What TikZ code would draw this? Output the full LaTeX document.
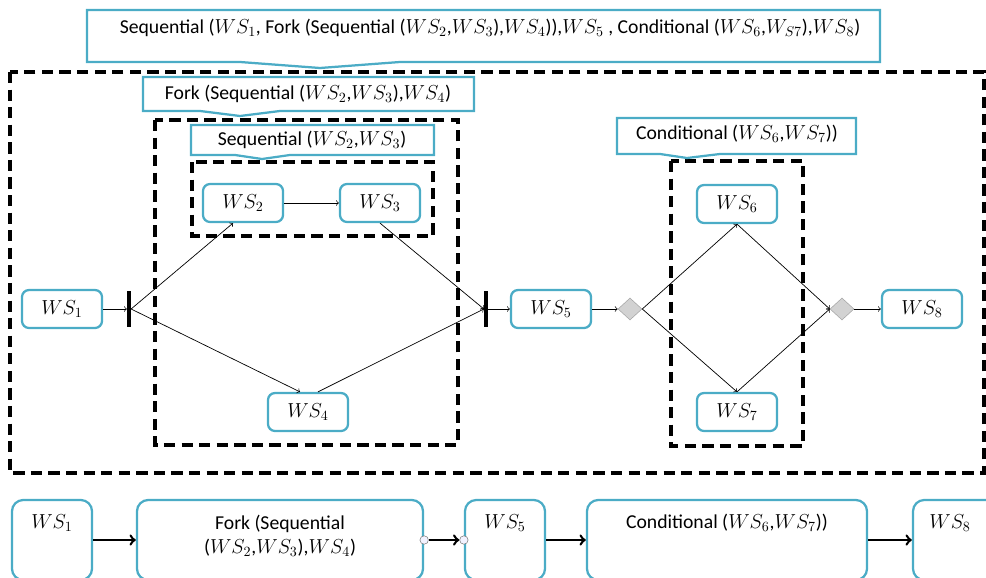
\documentclass[tikz,border=0pt]{standalone}
\usepackage{fontspec}
\setmainfont{Carlito}
\usetikzlibrary{shapes.geometric}
\definecolor{wsblue}{RGB}{75,172,198}
\tikzset{
  ws/.style={draw=wsblue, line width=1.6pt, rounded corners=5pt, fill=white,
    minimum width=2cm, minimum height=0.95cm},
  wsbig/.style={draw=wsblue, line width=1.6pt, rounded corners=8pt, fill=white,
    minimum height=2cm},
  callout/.style={draw=wsblue, line width=1.6pt, fill=white, line join=miter},
  dashbox/.style={draw=black, line width=2.4pt, dash pattern=on 8pt off 4.5pt},
  bar/.style={fill=black, inner sep=0pt, minimum width=2.6pt, minimum height=0.9cm},
  gate/.style={diamond, draw=gray!70, fill=gray!35, inner sep=0pt,
    minimum width=0.6cm, minimum height=0.55cm},
  port/.style={circle, draw=gray, fill=blue!5, inner sep=0pt, minimum size=6pt},
  flow/.style={->, line width=0.5pt},
  bigflow/.style={->, line width=1.8pt}
}
\begin{document}
\begin{tikzpicture}[x=0.025cm, y=-0.025cm, font=\fontsize{14}{17}\selectfont]
    \useasboundingbox (0,0) rectangle (986,578);
    \clip (0,0) rectangle (986,578);
    % dashed groups
    \draw [dashbox] (10,72) rectangle (984,473);
    \draw [dashbox] (155,120) rectangle (458,445);
    \draw [dashbox] (192,162) rectangle (433,236);
    \draw [dashbox] (671,161) rectangle (803,446);
    % callouts
    \draw [callout] (87,10) -- (880,10) -- (880,62) -- (400,62) -- (320,68) -- (240,62) -- (87,62) -- cycle;
    \path (490,28) node (ctop) {Sequential ($WS_1$, Fork (Sequential ($WS_2$,$WS_3$),$WS_4$)),$WS_5$ , Conditional ($WS_6$,$W_{S7}$),$WS_8$)};
    \draw [callout] (143,77) -- (474,77) -- (474,111) -- (280,111) -- (240,116) -- (200,111) -- (143,111) -- cycle;
    \path (308,94) node (cfork) {Fork (Sequential ($WS_2$,$WS_3$),$WS_4$)};
    \draw [callout] (191,125) -- (434,125) -- (434,155) -- (290,155) -- (262,159) -- (235,155) -- (191,155) -- cycle;
    \path (312,140) node (cseq) {Sequential ($WS_2$,$WS_3$)};
    \draw [callout] (617,118) -- (856,118) -- (856,154) -- (720,154) -- (687,158) -- (660,154) -- (617,154) -- cycle;
    \path (737,134) node (ccond) {Conditional ($WS_6$,$WS_7$))};
    % services
    \path ( 62,309) node [ws] (ws1) {$WS_1$};
    \path (243,203) node [ws] (ws2) {$WS_2$};
    \path (380,203) node [ws] (ws3) {$WS_3$};
    \path (308,412) node [ws] (ws4) {$WS_4$};
    \path (551,309) node [ws] (ws5) {$WS_5$};
    \path (737,204) node [ws] (ws6) {$WS_6$};
    \path (737,412) node [ws] (ws7) {$WS_7$};
    \path (922,309) node [ws] (ws8) {$WS_8$};
    % fork bars and gates
    \path (129,309) node [bar] (b1) {};
    \path (486,309) node [bar] (b2) {};
    \path (630,309) node [gate] (d1) {};
    \path (842,309) node [gate] (d2) {};
    % flows
    \draw [flow] (ws1.east) -- (b1.west);
    \draw [flow] (b1.east) -- ([xshift=-0.25cm]ws2.south);
    \draw [flow] (b1.east) -- ([xshift=-0.2cm]ws4.north);
    \draw [flow] (ws2.east) -- (ws3.west);
    \draw [flow] (ws3.south) -- (b2.west);
    \draw [flow] ([xshift=0.25cm]ws4.north) -- (b2.west);
    \draw [flow] (b2.east) -- (ws5.west);
    \draw [flow] (ws5.east) -- (d1.west);
    \draw [flow] (d1.east) -- (ws6.south);
    \draw [flow] (d1.east) -- (ws7.north);
    \draw [flow] (ws6.south) -- (d2.west);
    \draw [flow] (ws7.north) -- (d2.west);
    \draw [flow] (d2.east) -- (ws8.west);
    % composed view
    \path ( 52,540) node [wsbig, minimum width=2cm] (bw1) {};
    \path (280,540) node [wsbig, minimum width=7.15cm] (bfork) {};
    \path (505,540) node [wsbig, minimum width=2cm] (bw5) {};
    \path (727,540) node [wsbig, minimum width=7.0cm] (bcond) {};
    \path (956,540) node [wsbig, minimum width=2.15cm] (bw8) {};
    \path ( 52,523) node (tw1) {$WS_1$};
    \path (280,536) node [align=center] (tfork) {Fork (Sequential\\($WS_2$,$WS_3$),$WS_4$)};
    \path (505,523) node (tw5) {$WS_5$};
    \path (727,523) node (tcond) {Conditional ($WS_6$,$WS_7$))};
    \path (950,523) node (tw8) {$WS_8$};
    \path (bfork.east) node [port] (pout) {};
    \path (bw5.west) node [port] (pin) {};
    \draw [bigflow] (bw1.east) -- (bfork.west);
    \draw [bigflow] (pout) -- (pin);
    \draw [bigflow] (bw5.east) -- (bcond.west);
    \draw [bigflow] (bcond.east) -- (bw8.west);
\end{tikzpicture}
\end{document}
